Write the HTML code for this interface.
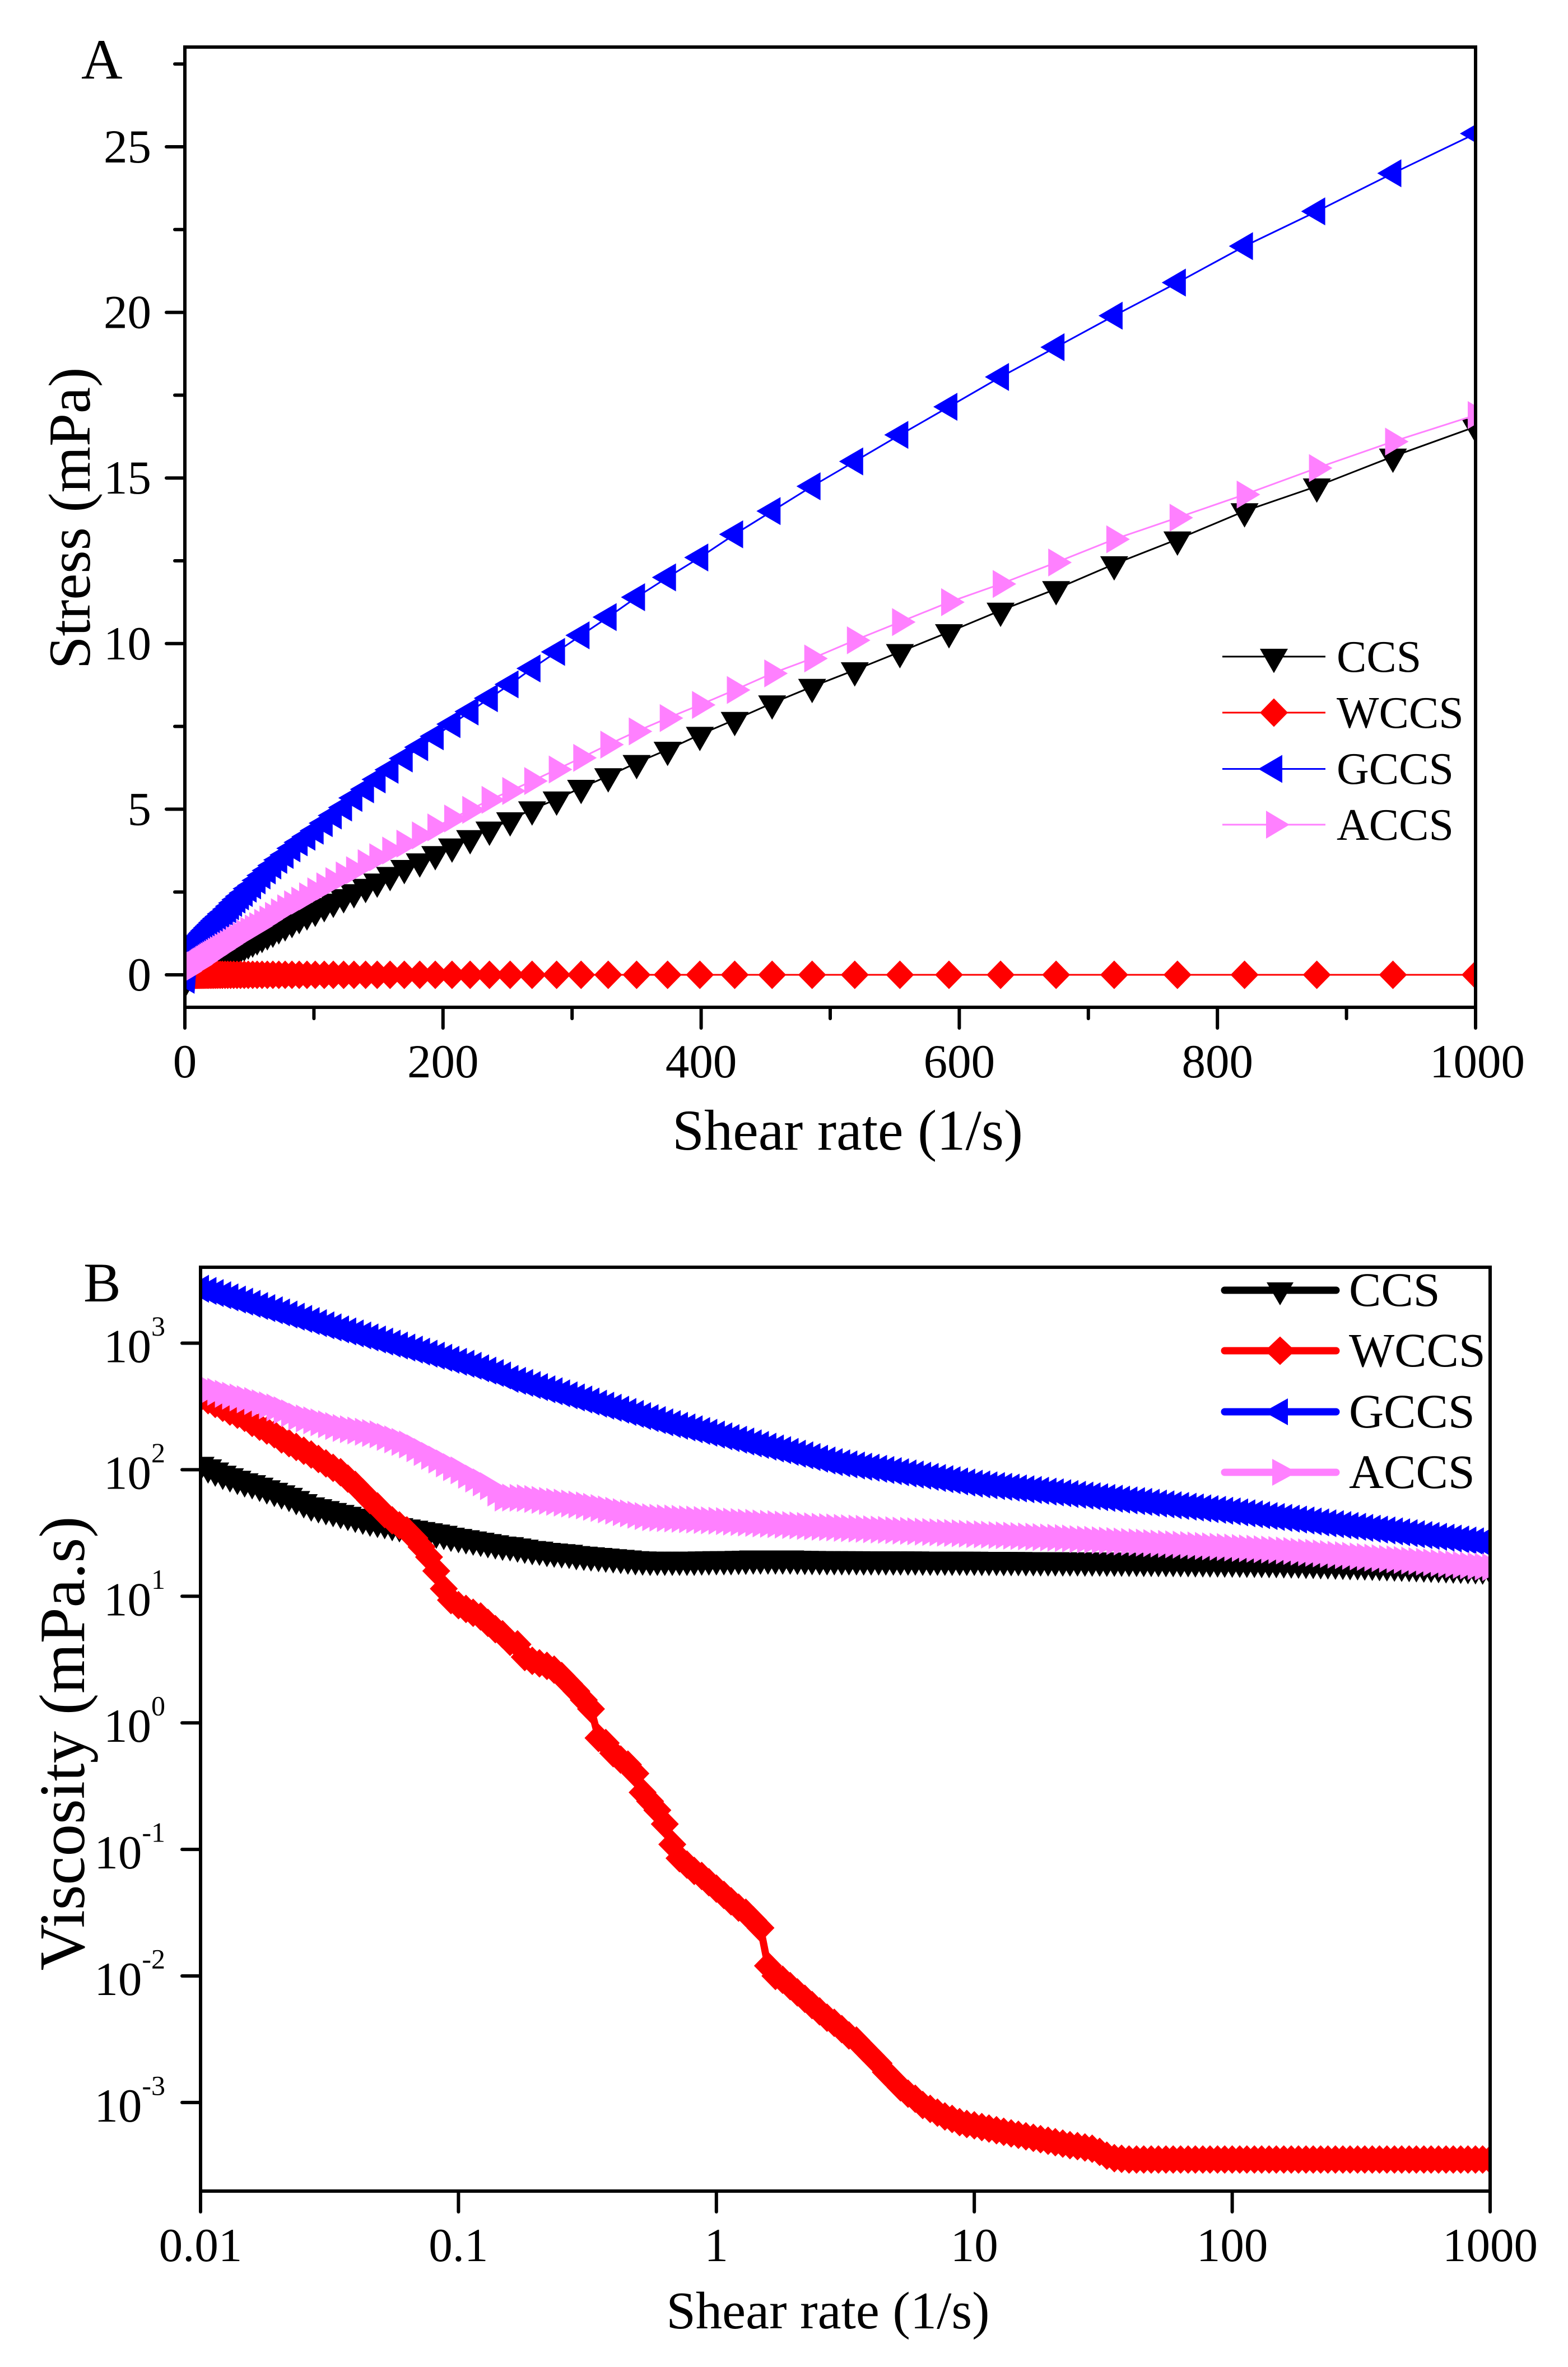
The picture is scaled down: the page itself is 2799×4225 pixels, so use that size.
<!DOCTYPE html>
<html lang="en">
<head>
<meta charset="utf-8">
<title>Stress and viscosity versus shear rate</title>
<style>
html,body{margin:0;padding:0;background:#fff}
svg{display:block}
text{font-family:"Liberation Serif","Times New Roman",serif;fill:#000}
</style>
</head>
<body>
<svg id="figure" xmlns="http://www.w3.org/2000/svg" width="2799" height="4225" viewBox="0 0 2799 4225">
  <rect x="0" y="0" width="2799" height="4225" fill="#fff"/>
  <defs>
    <clipPath id="clipA"><rect x="330" y="84" width="2304" height="1714"/></clipPath>
    <clipPath id="clipB"><rect x="358" y="2262" width="2302" height="1649"/></clipPath>
  </defs>
  <g id="plotA">
    <g id="seriesA" clip-path="url(#clipA)"></g>
    <g id="axesA"></g>
  </g>
  <g id="plotB">
    <g id="seriesB" clip-path="url(#clipB)"></g>
    <g id="axesB"></g>
  </g>
  <text x="145" y="140" font-size="102">A</text>
  <text x="149" y="2323" font-size="100">B</text>
  <text x="1513" y="2052" font-size="102.5" text-anchor="middle">Shear rate (1/s)</text>
  <text transform="translate(160,925) rotate(-90)" font-size="106" text-anchor="middle">Stress (mPa)</text>
  <text x="1478" y="4156" font-size="94.5" text-anchor="middle">Shear rate (1/s)</text>
  <text transform="translate(150,3112) rotate(-90)" font-size="115" text-anchor="middle">Viscosity (mPa.s)</text>

  <g>
    <g>
      <line x1="2182" x2="2366" y1="1172" y2="1172" stroke="#000" stroke-width="3"/>
      <polygon transform="translate(2274,1172)" points="-25,-14 25,-14 0,29.5" fill="#000"/>
      <text x="2386" y="1199" font-size="80">CCS</text>
    </g>
    <g>
      <line x1="2182" x2="2366" y1="1272" y2="1272" stroke="#f00" stroke-width="3"/>
      <polygon transform="translate(2274,1272)" points="-25,0 0,-25.5 25,0 0,25.5" fill="#f00"/>
      <text x="2386" y="1299" font-size="80">WCCS</text>
    </g>
    <g>
      <line x1="2182" x2="2366" y1="1372.5" y2="1372.5" stroke="#00f" stroke-width="3"/>
      <polygon transform="translate(2274,1372.5)" points="-28,0 15,-25 15,25" fill="#00f"/>
      <text x="2386" y="1399" font-size="80">GCCS</text>
    </g>
    <g>
      <line x1="2182" x2="2366" y1="1472" y2="1472" stroke="#ff80ff" stroke-width="3"/>
      <polygon transform="translate(2274,1472)" points="-14,-25 -14,25 28,0" fill="#ff80ff"/>
      <text x="2386" y="1499" font-size="80">ACCS</text>
    </g>
  </g>

  <g>
    <g>
      <line x1="2186" x2="2385" y1="2303" y2="2303" stroke="#000" stroke-width="13" stroke-linecap="round"/>
      <polygon transform="translate(2285,2303)" points="-24,-14 24,-14 0,27" fill="#000"/>
      <text x="2408" y="2331" font-size="86">CCS</text>
    </g>
    <g>
      <line x1="2186" x2="2385" y1="2411" y2="2411" stroke="#f00" stroke-width="13" stroke-linecap="round"/>
      <polygon transform="translate(2285,2411)" points="-27,0 0,-25.5 27,0 0,25.5" fill="#f00"/>
      <text x="2408" y="2439" font-size="86">WCCS</text>
    </g>
    <g>
      <line x1="2186" x2="2385" y1="2520" y2="2520" stroke="#00f" stroke-width="13" stroke-linecap="round"/>
      <polygon transform="translate(2285,2520)" points="-29,0 14,-24 14,24" fill="#00f"/>
      <text x="2408" y="2548" font-size="86">GCCS</text>
    </g>
    <g>
      <line x1="2186" x2="2385" y1="2628" y2="2628" stroke="#ff80ff" stroke-width="13" stroke-linecap="round"/>
      <polygon transform="translate(2285,2628)" points="-14,-24 -14,24 30,0" fill="#ff80ff"/>
      <text x="2408" y="2656" font-size="86">ACCS</text>
    </g>
  </g>
</svg>
<script>
/* ---------- Panel A data: shear rate (1/s) and stress (mPa) ---------- */
const shearRateA = [
1000,936,877,821,769,720,675,632,592,554,
519,486,455,426,399,374,350,328,307,288,
269,252,236,221,207,194,182,170,159,149,
140,131,123,115,108,101,94.6,88.6,83,77.7,
72.8,68.2,63.9,59.8,56,52.5,49.1,46,43.1,40.4,
37.8,35.4,33.2,31.1,29.1,27.3,25.5,23.9,22.4,21,
19.7,18.4,17.3,16.2,15.1,14.2,13.3,12.4,11.6,10.9,
10.2,9.6,9,8.4,7.9,7.4,6.9,6.5,6.1,5.7,
5.3,5,4.7,4.4,4.1,3.8,3.6,3.4,3.2,3,
2.8,2.6,2.4,2.3,2.1,2,1.9,1.7,1.6,1.5,
1.4,1.3,1.2,1.1,1];
const stressCCS = [
16.55,15.65,14.75,14,13.15,12.4,11.65,11,10.35,9.75,
9.2,8.7,8.2,7.7,7.25,6.8,6.4,6,5.65,5.3,
5,4.67,4.39,4.13,3.88,3.65,3.43,3.23,3.02,2.82,
2.66,2.5,2.35,2.21,2.08,1.94,1.83,1.72,1.6,1.5,
1.41,1.31,1.23,1.15,1.08,1.01,.95,.89,.83,.78,
.74,.69,.65,.6,.56,.53,.49,.45,.42,.39,
.36,.33,.3,.27,.25,.22,.2,.18,.16,.14,
.12,.11,.1,.09,.08,.07,.06,.06,.05,.05,
.05,.04,.04,.04,.03,.03,.03,.03,.02,.02,
.02,.02,.01,.01,.01,.01,.01,.01,0,0,
0,0,-.05,-.1,-.15];
const stressWCCS = [
0,0,0,0,0,0,0,0,0,0,
0,0,0,0,0,0,0,0,0,0,
0,0,0,0,0,0,0,0,0,0,
0,0,0,0,0,0,0,0,0,0,
0,0,0,0,0,0,0,0,0,0,
0,0,0,0,0,0,0,0,0,0,
0,0,0,0,0,0,0,0,0,0,
0,0,0,0,0,0,0,0,0,0,
0,0,0,0,0,0,0,0,0,0,
0,0,0,0,0,0,0,0,0,0,
0,0,0,0,0];
const stressGCCS = [
25.4,24.2,23.05,22,20.9,19.9,18.95,18.05,17.15,16.3,
15.5,14.75,14,13.3,12.6,12,11.4,10.8,10.25,9.75,
9.25,8.77,8.35,7.95,7.57,7.2,6.87,6.53,6.19,5.9,
5.6,5.34,5.05,4.81,4.58,4.35,4.17,4,3.82,3.62,
3.47,3.3,3.15,3,2.85,2.7,2.6,2.47,2.37,2.27,
2.17,2.07,1.98,1.9,1.84,1.76,1.7,1.64,1.58,1.52,
1.47,1.42,1.37,1.33,1.28,1.24,1.2,1.16,1.12,1.09,
1.05,1.02,.98,.95,.92,.89,.86,.84,.82,.79,
.76,.74,.72,.7,.68,.66,.64,.62,.6,.58,
.55,.52,.48,.44,.4,.35,.3,.2,.15,.1,
.05,0,-.05,-.1,-.15];
const stressACCS = [
16.9,16.1,15.3,14.5,13.8,13.15,12.45,11.8,11.25,10.65,
10.1,9.55,9.1,8.6,8.15,7.75,7.35,6.95,6.55,6.2,
5.85,5.55,5.28,4.98,4.72,4.45,4.21,3.96,3.75,3.55,
3.37,3.16,3,2.83,2.67,2.52,2.37,2.24,2.13,2.01,
1.89,1.78,1.67,1.57,1.47,1.4,1.33,1.25,1.18,1.11,
1.05,.99,.93,.88,.83,.78,.74,.7,.66,.62,
.59,.56,.53,.5,.47,.45,.42,.4,.38,.36,
.34,.32,.3,.29,.28,.27,.26,.25,.24,.23,
.22,.22,.21,.21,.2,.2,.19,.19,.18,.18,
.17,.17,.16,.16,.15,.15,.14,.14,.13,.13,
.12,.12,.11,.11,.1];
const xTicksA = [0,200,400,600,800,1000];
const xMinorTicksA = [100,300,500,700,900];
const yTicksA = [0,5,10,15,20,25];
const yMinorTicksA = [2.5,7.5,12.5,17.5,22.5,27.5];

/* ---------- Panel B data: log10 shear rate and log10 viscosity ---------- */
const logShearB = [
-2,-1.971,-1.943,-1.914,-1.886,-1.857,-1.829,
-1.8,-1.771,-1.743,-1.714,-1.686,-1.657,-1.629,
-1.6,-1.571,-1.543,-1.514,-1.486,-1.457,-1.429,
-1.4,-1.371,-1.343,-1.314,-1.286,-1.257,-1.229,
-1.2,-1.171,-1.143,-1.114,-1.086,-1.057,-1.029,
-1,-.971,-.943,-.914,-.886,-.857,-.829,
-.8,-.771,-.743,-.714,-.686,-.657,-.629,
-.6,-.571,-.543,-.514,-.486,-.457,-.429,
-.4,-.371,-.343,-.314,-.286,-.257,-.229,
-.2,-.171,-.143,-.114,-.086,-.057,-.029,
0,.029,.057,.086,.114,.143,.171,
.2,.229,.257,.286,.314,.343,.371,
.4,.429,.457,.486,.514,.543,.571,
.6,.629,.657,.686,.714,.743,.771,
.8,.829,.857,.886,.914,.943,.971,
1,1.029,1.057,1.086,1.114,1.143,1.171,
1.2,1.229,1.257,1.286,1.314,1.343,1.371,
1.4,1.429,1.457,1.486,1.514,1.543,1.571,
1.6,1.629,1.657,1.686,1.714,1.743,1.771,
1.8,1.829,1.857,1.886,1.914,1.943,1.971,
2,2.029,2.057,2.086,2.114,2.143,2.171,
2.2,2.229,2.257,2.286,2.314,2.343,2.371,
2.4,2.429,2.457,2.486,2.514,2.543,2.571,
2.6,2.629,2.657,2.686,2.714,2.743,2.771,
2.8,2.829,2.857,2.886,2.914,2.943,2.971,
3];
const logViscCCS = [
2.04,2.02,1.995,1.97,1.95,1.93,1.91,
1.895,1.875,1.855,1.835,1.815,1.795,1.77,
1.745,1.72,1.705,1.69,1.675,1.66,1.645,
1.63,1.615,1.6,1.59,1.58,1.565,1.555,
1.545,1.535,1.525,1.515,1.505,1.495,1.48,
1.47,1.46,1.45,1.44,1.43,1.42,1.41,
1.405,1.395,1.385,1.375,1.37,1.36,1.355,
1.35,1.345,1.335,1.33,1.325,1.32,1.315,
1.31,1.305,1.3,1.295,1.292,1.29,1.29,
1.29,1.29,1.29,1.29,1.29,1.292,1.293,
1.295,1.295,1.295,1.297,1.298,1.3,1.3,
1.3,1.3,1.3,1.3,1.298,1.297,1.296,
1.295,1.295,1.295,1.294,1.294,1.294,1.293,
1.293,1.293,1.293,1.292,1.292,1.292,1.292,
1.291,1.291,1.291,1.291,1.29,1.29,1.29,
1.29,1.289,1.289,1.289,1.288,1.288,1.288,
1.287,1.287,1.286,1.286,1.286,1.285,1.285,
1.285,1.284,1.284,1.284,1.283,1.283,1.283,
1.282,1.282,1.281,1.281,1.28,1.28,1.28,
1.279,1.279,1.278,1.278,1.277,1.277,1.276,
1.276,1.275,1.274,1.274,1.273,1.272,1.272,
1.27,1.269,1.268,1.266,1.265,1.263,1.262,
1.26,1.258,1.256,1.255,1.253,1.251,1.249,
1.247,1.245,1.243,1.241,1.239,1.237,1.235,
1.233,1.231,1.229,1.227,1.225,1.223,1.221,
1.219];
const logViscWCCS = [
2.57,2.55,2.52,2.49,2.46,2.435,2.41,
2.37,2.34,2.31,2.28,2.24,2.21,2.18,
2.15,2.12,2.085,2.05,2.015,1.98,1.93,
1.88,1.82,1.76,1.71,1.65,1.6,1.56,
1.52,1.46,1.39,1.31,1.2,1.06,.97,
.93,.9,.87,.84,.79,.74,.7,
.64,.62,.52,.49,.47,.45,.42,
.37,.31,.25,.18,.11,-.12,-.16,
-.24,-.29,-.33,-.4,-.55,-.62,-.69,
-.8,-.96,-1.07,-1.12,-1.17,-1.21,-1.26,
-1.31,-1.36,-1.41,-1.46,-1.5,-1.56,-1.62,
-1.92,-2,-2.03,-2.08,-2.13,-2.18,-2.23,
-2.28,-2.33,-2.37,-2.42,-2.47,-2.51,-2.57,
-2.63,-2.69,-2.76,-2.82,-2.88,-2.93,-2.97,
-3.02,-3.05,-3.08,-3.11,-3.13,-3.155,-3.17,
-3.18,-3.194,-3.206,-3.219,-3.231,-3.244,-3.255,
-3.267,-3.279,-3.29,-3.302,-3.314,-3.325,-3.337,
-3.345,-3.355,-3.365,-3.39,-3.42,-3.44,-3.445,
-3.45,-3.45,-3.45,-3.45,-3.45,-3.45,-3.45,
-3.45,-3.45,-3.45,-3.45,-3.45,-3.45,-3.45,
-3.45,-3.45,-3.45,-3.45,-3.45,-3.45,-3.45,
-3.45,-3.45,-3.45,-3.45,-3.45,-3.45,-3.45,
-3.45,-3.45,-3.45,-3.45,-3.45,-3.45,-3.45,
-3.45,-3.45,-3.45,-3.45,-3.45,-3.45,-3.45,
-3.45,-3.45,-3.45,-3.45,-3.45,-3.45,-3.45,
-3.45];
const logViscGCCS = [
3.43,3.413,3.396,3.379,3.362,3.345,3.328,
3.311,3.294,3.277,3.26,3.243,3.226,3.209,
3.192,3.175,3.158,3.141,3.125,3.109,3.093,
3.077,3.061,3.045,3.029,3.013,2.997,2.981,
2.965,2.949,2.933,2.917,2.901,2.885,2.869,
2.853,2.837,2.821,2.802,2.783,2.764,2.745,
2.718,2.702,2.686,2.669,2.653,2.636,2.62,
2.604,2.588,2.571,2.555,2.539,2.522,2.506,
2.49,2.474,2.457,2.441,2.424,2.408,2.392,
2.375,2.361,2.347,2.334,2.32,2.306,2.292,
2.278,2.264,2.25,2.237,2.223,2.209,2.196,
2.182,2.168,2.155,2.141,2.127,2.114,2.1,
2.087,2.073,2.06,2.051,2.042,2.033,2.024,
2.016,2.007,1.998,1.989,1.98,1.971,1.962,
1.953,1.944,1.935,1.926,1.917,1.908,1.899,
1.89,1.884,1.877,1.871,1.865,1.859,1.852,
1.846,1.84,1.834,1.827,1.821,1.815,1.808,
1.802,1.796,1.79,1.783,1.777,1.771,1.764,
1.758,1.752,1.746,1.739,1.733,1.727,1.72,
1.714,1.708,1.702,1.695,1.689,1.683,1.676,
1.67,1.663,1.656,1.649,1.641,1.634,1.627,
1.62,1.613,1.606,1.599,1.591,1.584,1.577,
1.57,1.563,1.556,1.549,1.541,1.534,1.527,
1.52,1.513,1.506,1.499,1.491,1.484,1.477,
1.47,1.463,1.456,1.449,1.441,1.434,1.427,
1.42];
const logViscACCS = [
2.645,2.63,2.616,2.6,2.585,2.571,2.557,
2.543,2.526,2.509,2.492,2.47,2.446,2.42,
2.405,2.39,2.375,2.36,2.345,2.33,2.32,
2.31,2.3,2.29,2.28,2.26,2.24,2.22,
2.2,2.17,2.14,2.11,2.08,2.05,2.02,
1.995,1.96,1.93,1.9,1.87,1.82,1.78,
1.78,1.778,1.776,1.769,1.762,1.754,1.747,
1.74,1.733,1.725,1.718,1.707,1.697,1.686,
1.676,1.665,1.655,1.644,1.634,1.625,1.621,
1.618,1.615,1.612,1.609,1.606,1.603,1.6,
1.597,1.594,1.59,1.587,1.583,1.58,1.576,
1.573,1.57,1.566,1.563,1.56,1.556,1.553,
1.55,1.547,1.544,1.541,1.538,1.535,1.533,
1.53,1.527,1.525,1.522,1.519,1.517,1.514,
1.511,1.508,1.506,1.503,1.5,1.498,1.495,
1.492,1.49,1.487,1.484,1.482,1.479,1.476,
1.473,1.471,1.468,1.465,1.463,1.46,1.457,
1.452,1.449,1.446,1.443,1.44,1.436,1.433,
1.43,1.427,1.424,1.42,1.417,1.414,1.411,
1.408,1.405,1.402,1.398,1.395,1.392,1.389,
1.385,1.382,1.379,1.376,1.372,1.369,1.366,
1.362,1.358,1.353,1.348,1.344,1.339,1.334,
1.329,1.325,1.32,1.315,1.311,1.306,1.301,
1.296,1.292,1.287,1.282,1.278,1.273,1.268,
1.263,1.258,1.253,1.248,1.244,1.239,1.234,
1.23];
const xTicksB = [-2,-1,0,1,2,3];
const xTickLabelsB = ["0.01","0.1","1","10","100","1000"];
const yTicksB = [3,2,1,0,-1,-2,-3];

/* ---------- Axis functions ---------- */
const NS = "http://www.w3.org/2000/svg";
const xScaleA = v => 330 + v * 2304 / 1000;
const yScaleA = v => 1740 - v * 59.12;
const xScaleB = v => 358 + (v + 2) * 460.4;
const yScaleB = v => 2397.5 + (3 - v) * 225.9;

const shapes = {
  down: [[-25,-14],[25,-14],[0,29.5]],
  diamond: [[-25,0],[0,-25.5],[25,0],[0,25.5]],
  left: [[-28,0],[15,-25],[15,25]],
  right: [[-14,-25],[-14,25],[28,0]]
};

function make(tag, attrs, parent) {
  const el = document.createElementNS(NS, tag);
  for (const k in attrs) el.setAttribute(k, attrs[k]);
  parent.appendChild(el);
  return el;
}

function drawSeries(parent, name, xs, ys, xScale, yScale, color, width, shape) {
  const g = make("g", {}, parent);
  
  
  const n = Math.min(xs.length, ys.length);
  const pts = [];
  for (let i = 0; i < n; i++) pts.push(xScale(xs[i]).toFixed(1) + "," + yScale(ys[i]).toFixed(1));
  const line = make("polyline", {points: pts.join(" "), fill: "none", stroke: color, "stroke-width": width, "stroke-linejoin": "round"}, g);
  
  
  for (let i = 0; i < n; i++) {
    const cx = xScale(xs[i]), cy = yScale(ys[i]);
    const p = shapes[shape].map(o => (cx + o[0]).toFixed(1) + "," + (cy + o[1]).toFixed(1)).join(" ");
    const m = make("polygon", {points: p, fill: color}, g);
    
    
  }
}

function tick(parent, name, x1, y1, x2, y2) {
  const t = make("line", {x1: x1, y1: y1, x2: x2, y2: y2, stroke: "#000", "stroke-width": 6, "stroke-linecap": "round"}, parent);
  
  
}

function label(parent, name, str, x, y, anchor) {
  const t = make("text", {x: x, y: y, "font-size": 85, "text-anchor": anchor}, parent);
  t.textContent = str;
  
  
  return t;
}

/* ---------- Panel A ---------- */
const seriesA = document.getElementById("seriesA");
const axesA = document.getElementById("axesA");
drawSeries(seriesA, "series-ccs-stress", shearRateA, stressCCS, xScaleA, yScaleA, "#000", 3, "down");
drawSeries(seriesA, "series-wccs-stress", shearRateA, stressWCCS, xScaleA, yScaleA, "#f00", 3, "diamond");
drawSeries(seriesA, "series-gccs-stress", shearRateA, stressGCCS, xScaleA, yScaleA, "#00f", 3, "left");
drawSeries(seriesA, "series-accs-stress", shearRateA, stressACCS, xScaleA, yScaleA, "#ff80ff", 3, "right");

const frameA = make("rect", {x: 330, y: 84, width: 2304, height: 1714, fill: "none", stroke: "#000", "stroke-width": 6}, axesA);


xTicksA.forEach(v => {
  tick(axesA, 'x-tick-a', xScaleA(v), 1798, xScaleA(v), 1835);
  label(axesA, 'x-tick-label-a', String(v), xScaleA(v) + (v === 1000 ? 3 : 0), 1923, "middle");
});
xMinorTicksA.forEach(v => tick(axesA, 'x-minor-tick-a', xScaleA(v), 1798, xScaleA(v), 1818));
yTicksA.forEach(v => {
  tick(axesA, 'y-tick-a', 330, yScaleA(v), 297, yScaleA(v));
  label(axesA, 'y-tick-label-a', String(v), 270, yScaleA(v) + 28, "end");
});
yMinorTicksA.forEach(v => tick(axesA, 'y-minor-tick-a', 330, yScaleA(v), 312, yScaleA(v)));

/* ---------- Panel B ---------- */
const seriesB = document.getElementById("seriesB");
const axesB = document.getElementById("axesB");
drawSeries(seriesB, "series-ccs-viscosity", logShearB, logViscCCS, xScaleB, yScaleB, "#000", 13, "down");
drawSeries(seriesB, "series-wccs-viscosity", logShearB, logViscWCCS, xScaleB, yScaleB, "#f00", 13, "diamond");
drawSeries(seriesB, "series-gccs-viscosity", logShearB, logViscGCCS, xScaleB, yScaleB, "#00f", 13, "left");
drawSeries(seriesB, "series-accs-viscosity", logShearB, logViscACCS, xScaleB, yScaleB, "#ff80ff", 13, "right");

const frameB = make("rect", {x: 358, y: 2262, width: 2302, height: 1649, fill: "none", stroke: "#000", "stroke-width": 6}, axesB);


xTicksB.forEach((v, i) => {
  tick(axesB, 'x-tick-b', xScaleB(v), 3911, xScaleB(v), 3948);
  label(axesB, 'x-tick-label-b', xTickLabelsB[i], xScaleB(v), 4036, "middle");
});
yTicksB.forEach(v => {
  tick(axesB, 'y-tick-b', 358, yScaleB(v), 325, yScaleB(v));
  const t = label(axesB, 'y-tick-label-b', "", 295, yScaleB(v) + 34, "end");
  const base = make("tspan", {}, t);
  base.textContent = "10";
  const sup = make("tspan", {dy: -47.5, "font-size": 50}, t);
  sup.textContent = String(v);
});
</script>
</body>
</html>
